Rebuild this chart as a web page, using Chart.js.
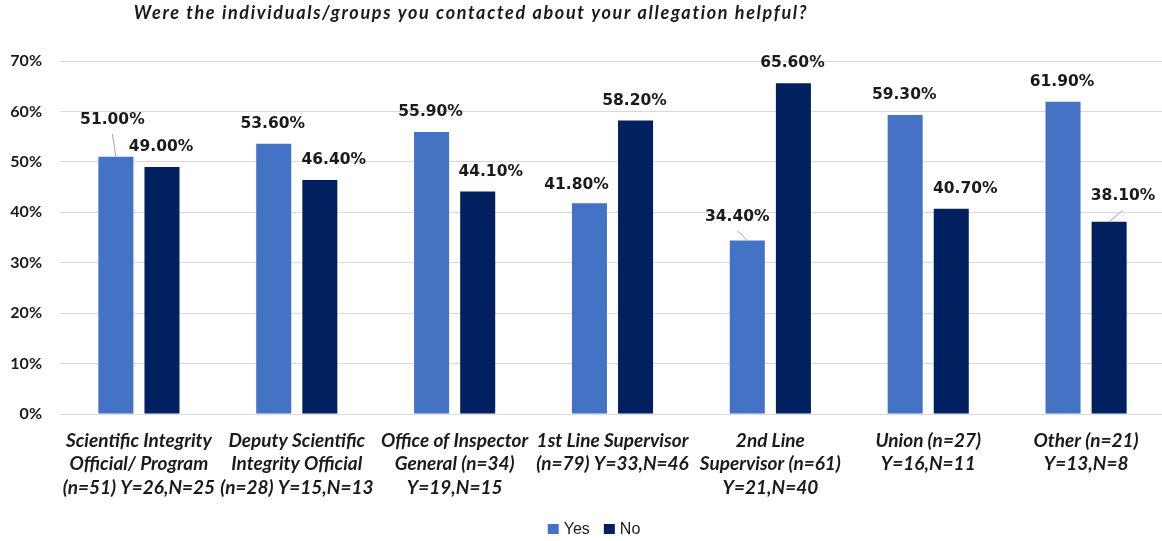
<!DOCTYPE html>
<html>
<head>
<meta charset="utf-8">
<script src="https://cdn.jsdelivr.net/npm/chart.js@4.4.0/dist/chart.umd.min.js"></script>
<style>
  html, body { margin: 0; padding: 0; background: #fff; overflow: hidden; }
</style>
</head>
<body>
<canvas id="chart" width="1165" height="541"></canvas>
<script>
const title = 'Were the individuals/groups you contacted about your allegation helpful?';
const categories = [
  ['Scientific Integrity', 'Official/ Program', '(n=51) Y=26,N=25'],
  ['Deputy Scientific', 'Integrity Official', '(n=28) Y=15,N=13'],
  ['Office of Inspector', 'General (n=34)', 'Y=19,N=15'],
  ['1st Line Supervisor', '(n=79) Y=33,N=46'],
  ['2nd Line', 'Supervisor (n=61)', 'Y=21,N=40'],
  ['Union (n=27)', 'Y=16,N=11'],
  ['Other (n=21)', 'Y=13,N=8']
];
const seriesNames = ['Yes', 'No'];
const yesValues = [51.0, 53.6, 55.9, 41.8, 34.4, 59.3, 61.9];
const noValues = [49.0, 46.4, 44.1, 58.2, 65.6, 40.7, 38.1];
const yMax = 70;
const yStep = 10;

const colors = ['#4472C4', '#002060'];
const textColor = '#1a1a1a';

// manual label moves as in the original (dataset-index)
const labelMoves = {
  '0-0': { dx: -3.5, dy: -37, leader: true },
  '0-3': { dx: -13, dy: -18 },
  '0-4': { dx: -10, dy: -24, leader: true },
  '1-1': { dx: 14 },
  '1-2': { dx: 13 },
  '1-5': { dx: 14 },
  '1-6': { dx: 14, dy: -26, leader: true }
};

const extras = {
  id: 'extras',
  afterDatasetsDraw(chart) {
    const ctx = chart.ctx;
    ctx.save();
    ctx.font = 'bold 15.5px "DejaVu Sans"';
    ctx.textAlign = 'center';
    ctx.textBaseline = 'middle';
    chart.data.datasets.forEach((ds, di) => {
      chart.getDatasetMeta(di).data.forEach((bar, i) => {
        const m = labelMoves[di + '-' + i] || {};
        const lx = bar.x + (m.dx !== undefined ? m.dx : -1);
        const ly = bar.y + (m.dy !== undefined ? m.dy : -20);
        if (m.leader) {
          ctx.strokeStyle = '#a6a6a6';
          ctx.lineWidth = 1;
          ctx.beginPath();
          ctx.moveTo(bar.x, bar.y);
          ctx.lineTo(lx, ly + 14);
          ctx.stroke();
        }
        ctx.fillStyle = textColor;
        ctx.fillText(ds.data[i].toFixed(2) + '%', lx, ly);
      });
    });

    // title
    ctx.font = 'italic bold 18px Lato';
    ctx.letterSpacing = '0px';
    const w = ctx.measureText(title).width;
    const sp = Math.max(0, (674 - w) / title.length);
    ctx.letterSpacing = sp.toFixed(2) + 'px';
    ctx.fillStyle = textColor;
    ctx.fillText(title, 471, 13);
    ctx.letterSpacing = '0px';

    // legend
    ctx.font = '16px "Liberation Sans"';
    ctx.textAlign = 'left';
    const tw = seriesNames.map(n => ctx.measureText(n).width);
    const total = 11 + 5 + tw[0] + 14 + 11 + 5 + tw[1];
    let x = 594 - total / 2;
    seriesNames.forEach((n, k) => {
      ctx.fillStyle = colors[k];
      ctx.fillRect(x, 524, 11, 10);
      ctx.fillStyle = textColor;
      ctx.fillText(n, x + 16, 529.5);
      x += 16 + tw[k] + 14;
    });
    ctx.restore();
  }
};

new Chart(document.getElementById('chart'), {
  type: 'bar',
  data: {
    labels: categories,
    datasets: [
      { label: seriesNames[0], data: yesValues, backgroundColor: colors[0],
        categoryPercentage: 0.584, barPercentage: 0.76 },
      { label: seriesNames[1], data: noValues, backgroundColor: colors[1],
        categoryPercentage: 0.584, barPercentage: 0.76 }
    ]
  },
  options: {
    responsive: false,
    animation: false,
    layout: { padding: { top: 61, right: 0, bottom: 0, left: 0 } },
    plugins: {
      legend: { display: false },
      tooltip: { enabled: false }
    },
    scales: {
      y: {
        min: 0,
        max: yMax,
        afterFit: s => { s.width = 60; },
        ticks: {
          stepSize: yStep,
          padding: 18,
          color: textColor,
          font: { family: 'Lato', weight: 'bold', size: 16 },
          callback: v => v + '%'
        },
        grid: { color: '#d9d9d9', lineWidth: 1, drawTicks: false },
        border: { display: false }
      },
      x: {
        afterFit: s => { s.height = 127; },
        grid: { display: false },
        border: { display: false },
        ticks: {
          autoSkip: false,
          maxRotation: 0,
          padding: 7,
          color: textColor,
          font: { family: 'Lato', style: 'italic', weight: 'bold', size: 19, lineHeight: 1.24 }
        }
      }
    }
  },
  plugins: [extras]
});
</script>
</body>
</html>
